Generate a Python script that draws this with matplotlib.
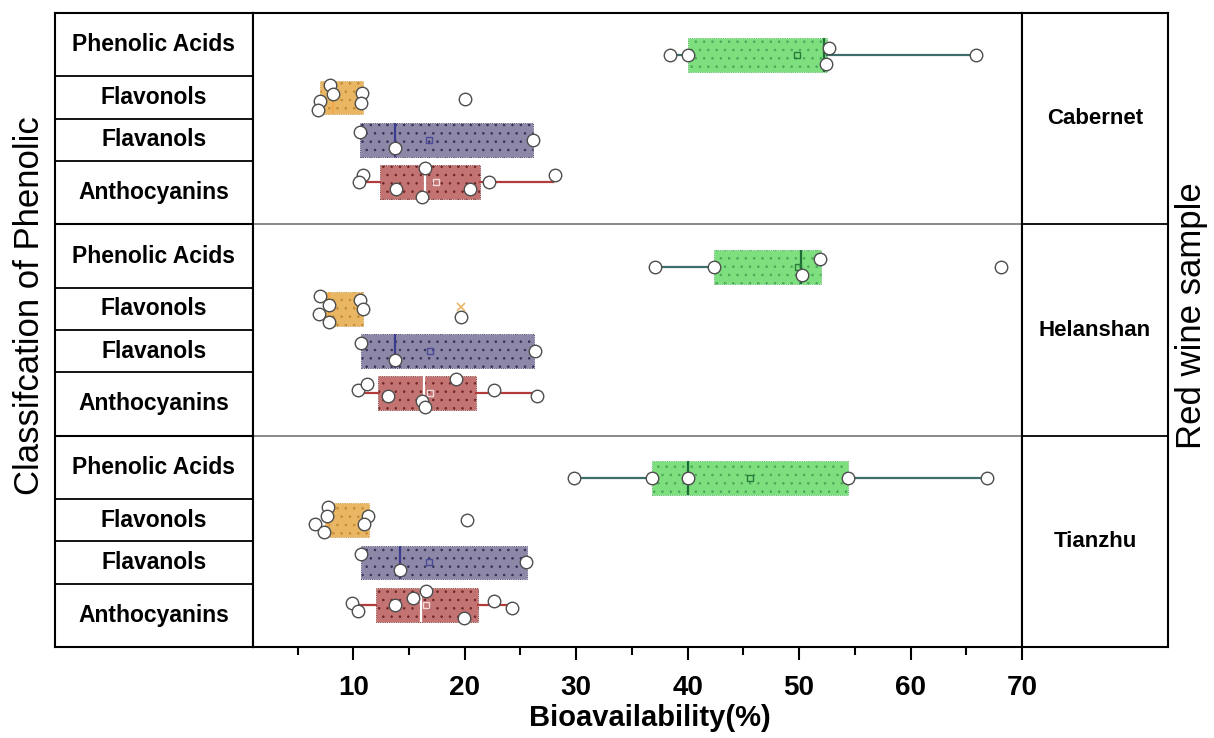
import matplotlib
matplotlib.use("Agg")
import matplotlib.pyplot as plt
import matplotlib.font_manager as fm

plt.rcParams['font.family'] = ['Liberation Sans', 'DejaVu Sans']
plt.rcParams['hatch.linewidth'] = 0.6

# ---------------- data ----------------
# category order inside every panel (bottom -> top)
categories = ['Anthocyanins', 'Flavanols', 'Flavonols', 'Phenolic Acids']
samples = ['Tianzhu', 'Helanshan', 'Cabernet']   # bottom -> top panels
xticks = [10, 20, 30, 40, 50, 60, 70]

# Cabernet
cab_q1 = [12.4, 10.6, 7.0, 40.0]
cab_med = [16.4, 13.7, 8.2, 52.2]
cab_q3 = [21.4, 26.1, 10.9, 52.5]
cab_lo = [10.5, 10.6, 7.0, 38.4]
cab_hi = [27.9, 26.1, 10.9, 65.9]
cab_mean = [17.4, 16.8, None, 49.8]
cab_pts = [[10.9, 10.5, 13.8, 16.4, 16.15, 20.5, 22.2, 28.1],
           [10.6, 13.7, 26.1],
           [7.9, 8.2, 7.0, 6.85, 10.8, 10.7, 20.05],
           [38.4, 40.0, 52.7, 52.4, 65.9]]
cab_jit = [[0.16, 0, -0.17, 0.34, -0.35, -0.17, 0, 0.16],
           [0.19, -0.2, 0],
           [0.3, 0.09, -0.09, -0.3, 0.11, -0.12, -0.03],
           [0, 0, 0.18, -0.21, 0]]

# Helanshan
hel_q1 = [12.2, 10.7, 7.35, 42.35]
hel_med = [16.3, 13.7, 7.85, 50.2]
hel_q3 = [21.0, 26.2, 10.87, 51.96]
hel_lo = [10.4, 10.7, 7.35, 37.1]
hel_hi = [26.5, 26.2, 10.87, 51.96]
hel_mean = [16.9, 16.9, None, 49.9]
hel_pts = [[10.4, 11.2, 13.1, 19.2, 22.65, 26.5, 16.15, 16.45],
           [10.7, 13.7, 26.3],
           [7.05, 7.85, 6.9, 7.8, 10.6, 10.87, 19.67],
           [37.1, 42.35, 51.9, 50.3, 68.1]]
hel_jit = [[0.09, 0.23, -0.05, 0.34, 0.09, -0.05, -0.17, -0.32],
           [0.19, -0.21, 0],
           [0.31, 0.1, -0.11, -0.3, 0.21, 0, -0.2],
           [0, 0, 0.19, -0.2, 0]]
hel_flav_max = 19.67

# Tianzhu
tia_q1 = [12.06, 10.7, 7.5, 36.8]
tia_med = [16.06, 14.2, 7.7, 40.0]
tia_q3 = [21.2, 25.55, 11.4, 54.4]
tia_lo = [9.9, 10.7, 7.5, 29.8]
tia_hi = [24.2, 25.55, 11.4, 66.9]
tia_mean = [16.5, 16.8, None, 45.6]
tia_pts = [[9.9, 10.4, 13.7, 15.4, 16.5, 19.9, 22.6, 24.2],
           [10.7, 14.2, 25.5],
           [7.7, 7.6, 6.6, 7.4, 11.3, 11.0, 20.2],
           [29.8, 36.8, 40.0, 54.4, 66.9]]
tia_jit = [[0.03, -0.14, 0, 0.17, 0.33, -0.32, 0.09, -0.08],
           [0.19, -0.18, 0],
           [0.31, 0.1, -0.1, -0.29, 0.11, -0.1, 0],
           [0, 0, 0, 0, 0]]

# ---------------- style ----------------
fills = ['#c37472', '#8e88a8', '#e9b663', '#7ddf7e']
dots = ['#6e2626', '#35305a', '#c48b35', '#4aa85a']
medc = ['#ffffff', '#3b3b8f', '#f3a94a', '#1d6b35']
whc = ['#b23b3b', '#3b3b8f', '#c48b35', '#3d6e6a']
meanc = ['#f4dada', '#4a4a9a', '#c48b35', '#2a7a3a']

W, H = 1214, 738
fig = plt.figure(figsize=(W / 100, H / 100), dpi=100)


def rect(x0, y0, x1, y1):
    return [x0 / W, 1 - y1 / H, (x1 - x0) / W, (y1 - y0) / H]


ax_l = fig.add_axes(rect(55, 13, 253, 647))
ax = fig.add_axes(rect(253, 13, 1022, 647))
ax_r = fig.add_axes(rect(1022, 13, 1168, 647))

groups = {
    'Tianzhu': (tia_q1, tia_med, tia_q3, tia_lo, tia_hi, tia_mean, tia_pts, tia_jit),
    'Helanshan': (hel_q1, hel_med, hel_q3, hel_lo, hel_hi, hel_mean, hel_pts, hel_jit),
    'Cabernet': (cab_q1, cab_med, cab_q3, cab_lo, cab_hi, cab_mean, cab_pts, cab_jit),
}

for si, s in enumerate(samples):
    q1, med, q3, lo, hi, mean, pts, jit = groups[s]
    base = si * 5
    for ci in range(len(categories)):
        pos = base + ci + 1
        st = [dict(q1=q1[ci], med=med[ci], q3=q3[ci], whislo=lo[ci], whishi=hi[ci], fliers=[])]
        ax.bxp(st, positions=[pos], widths=0.8, orientation='horizontal',
               patch_artist=True, showfliers=False, showcaps=False,
               boxprops=dict(facecolor=fills[ci], edgecolor=dots[ci], hatch='..', linewidth=0.6, linestyle=':'),
               medianprops=dict(color=medc[ci], linewidth=1.6),
               whiskerprops=dict(color=whc[ci], linewidth=1.6),
               manage_ticks=False, zorder=2)
        if mean[ci] is not None:
            ax.plot([mean[ci]], [pos], marker='s', ms=5, mfc='none', mec=meanc[ci], mew=1.0, zorder=3)
        ax.plot(pts[ci], [pos + j for j in jit[ci]], linestyle='none', marker='o', ms=9,
                mfc='white', mec='#4d4d4d', mew=1.0, zorder=4)
    if s == 'Helanshan':
        ax.plot([hel_flav_max], [base + 3 + 0.04], marker='x', ms=6, color='#e9b663', mew=1.2, zorder=3)

ax.set_xlim(1, 70)
ax.set_ylim(0, 15)
ax.set_yticks([])
ax.set_xticks(xticks)
ax.set_xticks([5, 15, 25, 35, 45, 55, 65], minor=True)
ax.tick_params(axis='x', which='major', direction='out', length=9, width=1.5, pad=11)
ax.tick_params(axis='x', which='minor', direction='out', length=6, width=1.5)
tick_font = fm.FontProperties(family=['Liberation Sans Narrow', 'Liberation Sans'], weight='bold', size=20)
for lab in ax.get_xticklabels():
    lab.set_fontproperties(tick_font)
for b in [5, 10]:
    ax.axhline(b, color='#808080', lw=1.3, zorder=1)
for sp in ax.spines.values():
    sp.set_linewidth(1.5)

# left table
ax_l.set_xlim(0, 1)
ax_l.set_ylim(0, 15)
ax_l.set_xticks([])
ax_l.set_yticks([])
for si in range(3):
    base = si * 5
    for b in [1.5, 2.5, 3.5]:
        ax_l.axhline(base + b, color='black', lw=1.3)
    if si > 0:
        ax_l.axhline(base, color='black', lw=1.5)
    centers = [0.75, 2.0, 3.0, 4.25]
    for ci, c in enumerate(categories):
        ax_l.text(0.5, base + centers[ci], c, ha='center', va='center',
                  fontsize=16.5, fontweight='bold')
for sp in ax_l.spines.values():
    sp.set_linewidth(1.5)

# right column
ax_r.set_xlim(0, 1)
ax_r.set_ylim(0, 15)
ax_r.set_xticks([])
ax_r.set_yticks([])
for si, s in enumerate(samples):
    ax_r.text(0.5, si * 5 + 2.5, s, ha='center', va='center', fontsize=16, fontweight='bold')
    if si > 0:
        ax_r.axhline(si * 5, color='black', lw=1.3)
for sp in ax_r.spines.values():
    sp.set_linewidth(1.5)

narrow_bold = fm.FontProperties(family=['Liberation Sans Narrow', 'Liberation Sans'], weight='bold', size=21)
fig.text(650 / W, 1 - 718 / H, 'Bioavailability(%)', ha='center', va='center', fontproperties=narrow_bold)
fig.text(30 / W, 1 - 306 / H, 'Classifcation of Phenolic', rotation=90, ha='center', va='center', fontsize=25)
fig.text(1192 / W, 1 - 316 / H, 'Red wine sample', rotation=90, ha='center', va='center', fontsize=25)

fig.savefig('out.png', dpi=100)
